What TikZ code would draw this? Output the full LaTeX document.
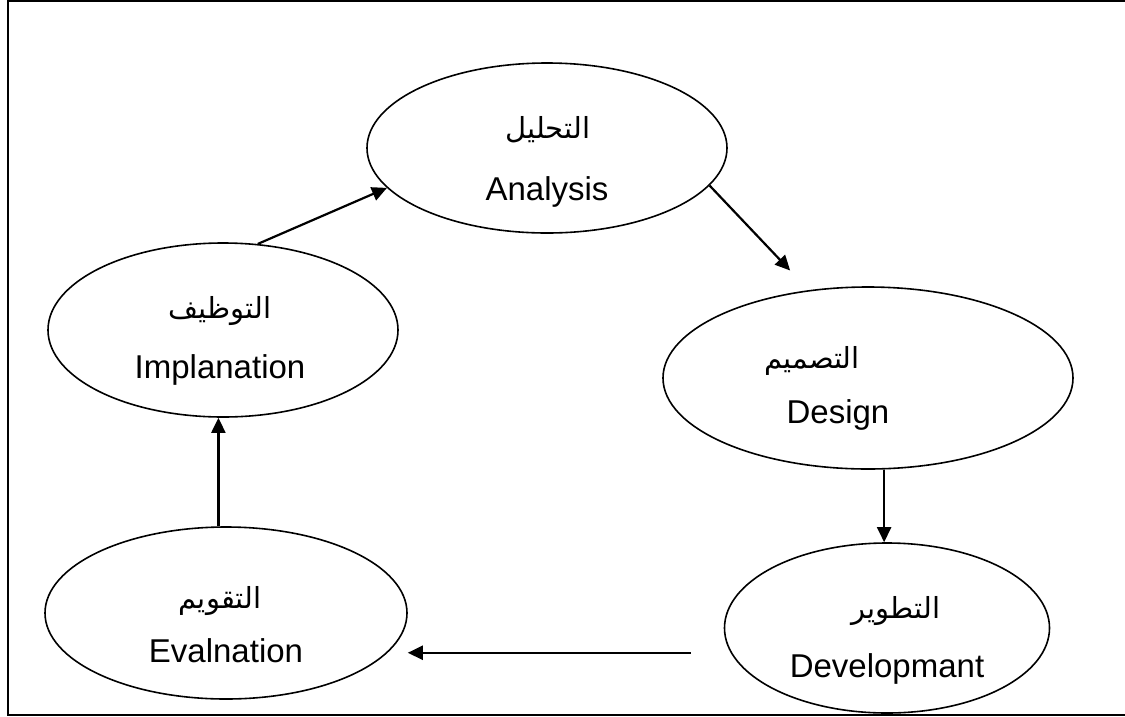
\documentclass[tikz,border=0pt]{standalone}
\usepackage{fontspec}
\setmainfont{Liberation Sans}
\newfontfamily\arabicfont[Script=Arabic]{DejaVu Sans}
\TeXXeTstate=1
\usetikzlibrary{shapes.geometric,arrows.meta}
\tikzset{
  stage/.style={ellipse, draw, line width=1.6pt, inner sep=0pt},
  arr/.style={line width=2.2pt, -{Triangle[length=15pt,width=14pt]}},
  entext/.style={anchor=base, inner sep=0pt, font=\fontsize{33}{35}\selectfont},
  artext/.style={anchor=base, inner sep=0pt, font=\fontsize{29}{31}\selectfont\arabicfont},
}
\begin{document}
\begin{tikzpicture}[x=1pt,y=-1pt]
\useasboundingbox (0,0) rectangle (1125,716);
% outer frame
\draw[line width=1.8pt] (1126,1) -- (8,1) -- (8,715) -- (1126,715);

% stages of the cycle
\node[stage, minimum width=360pt, minimum height=170pt] (ana) at (547,148) {};
\node[stage, minimum width=410pt, minimum height=182pt] (des) at (868,378) {};
\node[stage, minimum width=325pt, minimum height=170pt] (dev) at (887,628) {};
\node[stage, minimum width=362pt, minimum height=172pt] (eva) at (226,613) {};
\node[stage, minimum width=350pt, minimum height=174pt] (imp) at (223,330) {};

% labels
\node[artext] (anaAr) at (548,138) {\beginR التحليل\endR};
\node[entext] (anaEn) at (547,200) {Analysis};
\node[artext] (desAr) at (812,368) {\beginR التصميم\endR};
\node[entext] (desEn) at (838,423) {Design};
\node[artext] (devAr) at (896,618) {\beginR التطوير\endR};
\node[entext] (devEn) at (887,677) {Developmant};
\node[artext] (evaAr) at (220,608) {\beginR التقويم\endR};
\node[entext] (evaEn) at (226,662) {Evalnation};
\node[artext] (impAr) at (220,318) {\beginR التوظيف\endR};
\node[entext] (impEn) at (220,378) {Implanation};

% connectors
\draw[arr] (imp.68) -- (ana.194);
\draw[arr, shorten >=27pt] (ana.-13.6) -- (des.124.3);
\draw[arr] (des.-80.5) -- (des.-80.5 |- dev.north);
\draw[arr, shorten <=40pt] (dev.189) -- (dev.189 -| eva.east);
\draw[arr] (eva.95) -- (eva.95 |- imp.south);
\end{tikzpicture}
\end{document}
